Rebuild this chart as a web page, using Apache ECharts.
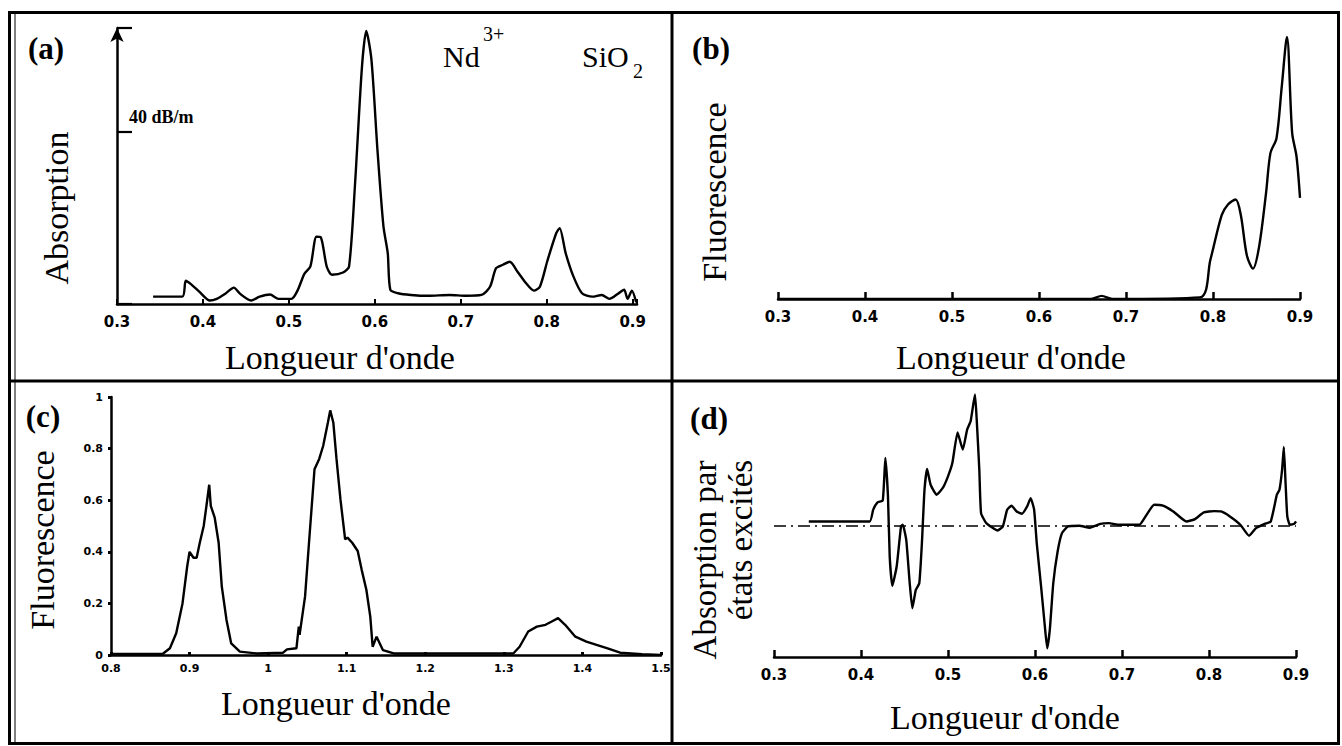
<!DOCTYPE html>
<html><head><meta charset="utf-8">
<script src="https://cdn.jsdelivr.net/npm/echarts@6/dist/echarts.min.js"></script>
<style>html,body{margin:0;padding:0;background:#fff}#c{width:1342px;height:746px}</style>
</head><body><div id="c"></div>
<script>
// ---- Panel (a): absorption of Nd3+ in SiO2 ----
const aWave = [0.342,0.376,0.380,0.386,0.396,0.408,0.416,0.426,0.436,0.443,0.456,0.466,0.478,0.488,0.503,0.510,0.518,0.525,0.532,0.537,0.544,0.550,0.563,0.570,0.577,0.585,0.590,0.596,0.603,0.610,0.615,0.618,0.627,0.642,0.662,0.687,0.706,0.724,0.734,0.741,0.749,0.757,0.766,0.776,0.785,0.792,0.801,0.811,0.815,0.822,0.831,0.841,0.853,0.864,0.873,0.883,0.890,0.894,0.899,0.904];
const aAbs = [1.7,1.7,5.4,4.6,2.8,0.8,1.2,2.4,3.8,2.4,0.8,1.7,2.2,1.2,1.2,3.1,7.0,8.7,15.6,15.5,8.7,6.8,7.3,8.7,28,55,63.3,56.7,35.8,18,11.8,3.3,2.5,2.1,1.9,2.1,1.9,2.1,4.0,8.3,9.1,9.8,7.5,4.8,3.1,4.0,10.2,16.4,17.6,11.8,6.4,2.5,1.7,2.1,1.2,2.4,3.3,1.2,3.1,0.4];
// ---- Panel (b): fluorescence ----
const bWave = [0.3,0.66,0.672,0.684,0.785,0.797,0.81,0.817,0.826,0.832,0.839,0.846,0.853,0.861,0.866,0.873,0.879,0.885,0.891,0.896,0.9];
const bFluo = [0,0,0.012,0,0.006,0.15,0.32,0.36,0.38,0.32,0.165,0.116,0.2,0.405,0.557,0.614,0.81,1.0,0.633,0.544,0.386];
// ---- Panel (c): fluorescence (near IR) ----
const cWave = [0.8,0.866,0.875,0.883,0.891,0.897,0.9,0.905,0.909,0.913,0.918,0.922,0.925,0.927,0.932,0.937,0.941,0.947,0.953,0.964,0.986,1.019,1.024,1.036,1.039,1.04,1.047,1.052,1.059,1.065,1.07,1.076,1.079,1.083,1.087,1.092,1.098,1.101,1.107,1.114,1.119,1.125,1.13,1.133,1.138,1.146,1.16,1.312,1.32,1.331,1.342,1.353,1.361,1.369,1.378,1.391,1.405,1.418,1.432,1.448,1.476,1.5];
const cFluo = [0.004,0.005,0.026,0.084,0.2,0.344,0.4,0.377,0.377,0.435,0.5,0.59,0.66,0.578,0.532,0.435,0.266,0.136,0.045,0.013,0.006,0.009,0.022,0.026,0.11,0.078,0.227,0.435,0.72,0.76,0.81,0.9,0.948,0.9,0.76,0.604,0.448,0.455,0.435,0.403,0.331,0.253,0.149,0.032,0.071,0.019,0.006,0.006,0.032,0.091,0.11,0.117,0.13,0.143,0.117,0.071,0.052,0.039,0.026,0.009,0.003,0];
// ---- Panel (d): excited-state absorption ----
const dWave = [0.34,0.41,0.414,0.419,0.425,0.428,0.431,0.433,0.436,0.441,0.446,0.448,0.452,0.456,0.459,0.463,0.467,0.47,0.473,0.476,0.48,0.487,0.494,0.5,0.505,0.511,0.517,0.522,0.526,0.531,0.533,0.536,0.538,0.544,0.557,0.563,0.568,0.573,0.579,0.585,0.591,0.595,0.599,0.602,0.607,0.611,0.614,0.617,0.621,0.626,0.631,0.638,0.651,0.663,0.675,0.685,0.695,0.72,0.727,0.737,0.747,0.759,0.774,0.784,0.794,0.806,0.814,0.824,0.836,0.846,0.854,0.864,0.871,0.878,0.881,0.884,0.886,0.888,0.89,0.893,0.898,0.9];
const dESA = [0.033,0.033,0.122,0.178,0.193,0.517,0.224,-0.234,-0.458,-0.31,-0.005,0.008,-0.107,-0.438,-0.628,-0.489,-0.438,-0.132,0.275,0.433,0.313,0.237,0.288,0.377,0.478,0.712,0.58,0.733,0.796,1.0,0.809,0.427,0.097,0.02,-0.036,-0.005,0.122,0.153,0.109,0.092,0.148,0.211,0.122,-0.132,-0.463,-0.743,-0.934,-0.794,-0.438,-0.196,-0.056,-0.005,0,-0.015,0.015,0.02,0.008,0.008,0.071,0.16,0.153,0.109,0.033,0.051,0.102,0.112,0.109,0.071,0.008,-0.076,-0.018,0.015,0.033,0.237,0.275,0.427,0.6,0.326,0.071,0.008,0.015,0.033];
// ---- Tick labels ----
const xTicksVis = ['0.3','0.4','0.5','0.6','0.7','0.8','0.9'];
const xTicksIR = ['0.8','0.9','1','1.1','1.2','1.3','1.4','1.5'];
const yTicksC = ['0','0.2','0.4','0.6','0.8','1'];
const xTitle = "Longueur d'onde";

const chart = echarts.init(document.getElementById('c'), null, {renderer: 'svg'});
const serif = 'Liberation Serif';
const sans = 'DejaVu Sans';
const K = '#000';
function pairs(xs, ys) { return xs.map((x, i) => [x, ys[i]]); }
function labelFrom(list, min, step) {
  return v => {
    const i = Math.round((v - min) / step);
    return (Math.abs(min + i * step - v) < 1e-6 && list[i] !== undefined) ? list[i] : '';
  };
}
function xAx(grid, min, max, list, opts) {
  opts = opts || {};
  return {
    type: 'value', gridIndex: grid, min: min, max: max, interval: 0.1,
    axisLine: {show: true, onZero: false, lineStyle: {color: K, width: 2.5}},
    axisTick: {show: true, inside: true, length: opts.tick || 6, lineStyle: {color: K, width: opts.tickW || 2}},
    axisLabel: {show: true, formatter: labelFrom(list, min, 0.1), color: K, fontFamily: sans, fontWeight: 'bold',
      fontSize: opts.fs || 15, margin: opts.margin || 10, showMaxLabel: true, showMinLabel: true},
    splitLine: {show: false}
  };
}
function line(xi, xs, ys, smooth) {
  return {type: 'line', xAxisIndex: xi, yAxisIndex: xi, data: pairs(xs, ys), showSymbol: false, symbol: 'none',
    smooth: smooth, lineStyle: {color: K, width: 2.4}, animation: false, silent: true};
}
function txt(x, y, text, size, opts) {
  opts = opts || {};
  return {type: 'text', x: x, y: y, rotation: opts.rot || 0, z: 10,
    style: {text: text, fill: K, fontFamily: opts.family || serif, fontSize: size, fontWeight: opts.weight || 'normal',
      align: opts.align || 'center', verticalAlign: 'middle'}};
}

const option = {
  animation: false,
  backgroundColor: '#fff',
  grid: [
    {left: 117, top: 28, width: 520, height: 276},
    {left: 778, top: 30, width: 522, height: 269},
    {left: 111, top: 397, width: 550, height: 258},
    {left: 774, top: 388, width: 522, height: 269}
  ],
  xAxis: [
    xAx(0, 0.3, 0.905, xTicksVis, {tick: 5}),
    xAx(1, 0.3, 0.9, xTicksVis, {tick: 7, tickW: 2.5}),
    xAx(2, 0.8, 1.5, xTicksIR, {tick: 3, tickW: 3, fs: 11, margin: 8}),
    xAx(3, 0.3, 0.9, xTicksVis, {tick: 7, tickW: 2.5})
  ],
  yAxis: [
    {type: 'value', gridIndex: 0, min: 0, max: 64, interval: 40,
      axisLine: {show: true, symbol: ['none', 'arrow'], symbolSize: [10, 14], lineStyle: {color: K, width: 2.5}},
      axisTick: {show: true, inside: true, length: 15, lineStyle: {color: K, width: 2.2}},
      axisLabel: {show: true, inside: true, margin: 12, verticalAlign: 'bottom', padding: [0, 0, 6, 0],
        formatter: v => v === 40 ? '40 dB/m' : '', color: K, fontFamily: serif, fontWeight: 'bold', fontSize: 18},
      splitLine: {show: false}},
    {type: 'value', gridIndex: 1, min: 0, max: 1.027, show: false, splitLine: {show: false}},
    {type: 'value', gridIndex: 2, min: 0, max: 1, interval: 0.2,
      axisLine: {show: true, lineStyle: {color: K, width: 2.5}},
      axisTick: {show: true, length: 3, lineStyle: {color: K, width: 3}},
      axisLabel: {show: true, formatter: labelFrom(yTicksC, 0, 0.2), color: K, fontFamily: sans, fontWeight: 'bold', fontSize: 11, margin: 8},
      splitLine: {show: false}},
    {type: 'value', gridIndex: 3, min: -1, max: 1.05, show: false, splitLine: {show: false}}
  ],
  series: [
    line(0, aWave, aAbs, 0.25),
    line(1, bWave, bFluo, 0.3),
    line(2, cWave, cFluo, false),
    Object.assign(line(3, dWave, dESA, 0.15), {
      markLine: {silent: true, symbol: 'none', label: {show: false},
        lineStyle: {color: K, width: 1.6, type: [12, 5, 2, 5]}, data: [{yAxis: 0}]}
    })
  ],
  graphic: [
    {type: 'rect', z: 5, shape: {x: 9.5, y: 12.5, width: 1329, height: 731}, style: {fill: 'none', stroke: K, lineWidth: 3}},
    {type: 'line', z: 5, shape: {x1: 15, y1: 14, x2: 15, y2: 742}, style: {stroke: K, lineWidth: 1}},
    {type: 'line', z: 5, shape: {x1: 672, y1: 13, x2: 672, y2: 743}, style: {stroke: K, lineWidth: 3}},
    {type: 'line', z: 5, shape: {x1: 10, y1: 381, x2: 1338, y2: 381}, style: {stroke: K, lineWidth: 3}},
    txt(46, 48, '(a)', 31, {weight: 'bold'}),
    txt(711, 48, '(b)', 31, {weight: 'bold'}),
    txt(43, 416, '(c)', 31, {weight: 'bold'}),
    txt(709, 418, '(d)', 31, {weight: 'bold'}),
    txt(443, 56, 'Nd', 30, {align: 'left'}),
    txt(483, 34, '3+', 20, {align: 'left'}),
    txt(582, 56, 'SiO', 30, {align: 'left'}),
    txt(633, 71, '2', 20, {align: 'left'}),
    txt(56, 208, 'Absorption', 34, {rot: Math.PI / 2}),
    txt(714, 192, 'Fluorescence', 34, {rot: Math.PI / 2}),
    txt(42, 540, 'Fluorescence', 34, {rot: Math.PI / 2}),
    txt(705, 560, 'Absorption par', 33, {rot: Math.PI / 2}),
    txt(741, 540, 'états excités', 33, {rot: Math.PI / 2}),
    txt(340, 357, xTitle, 34),
    txt(1011, 357, xTitle, 34),
    txt(336, 703, xTitle, 34),
    txt(1005, 717, xTitle, 34)
  ]
};
chart.setOption(option);
</script>
</body></html>
